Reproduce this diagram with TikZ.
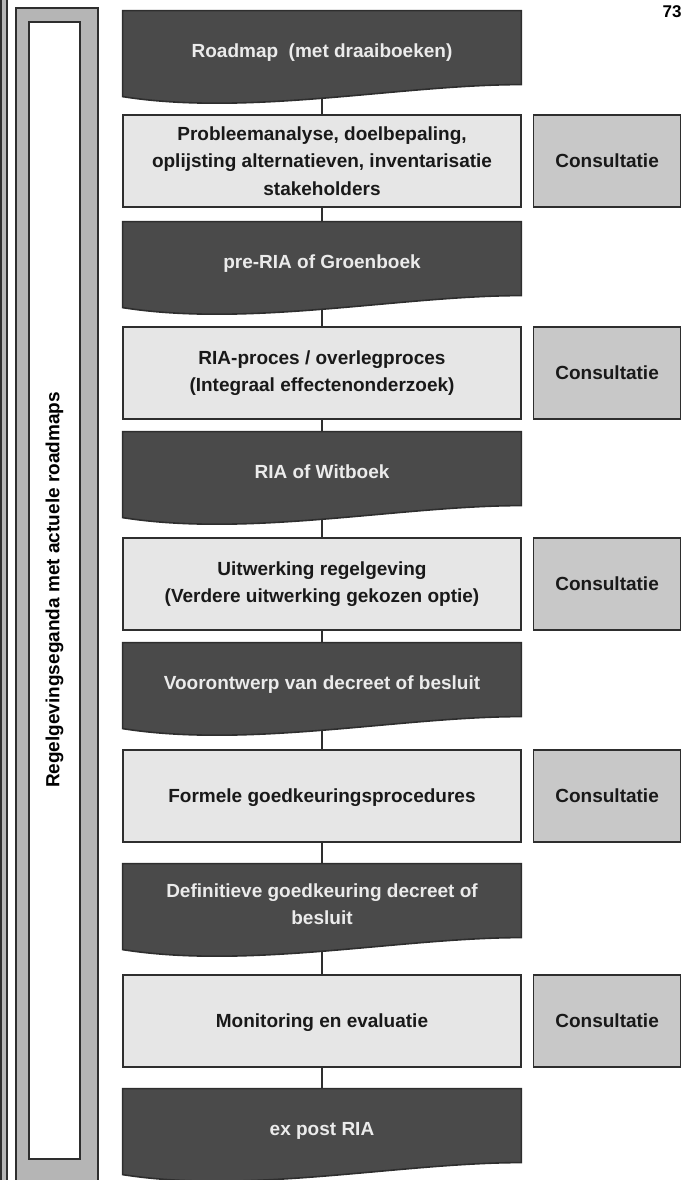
\documentclass[tikz,border=0pt]{standalone}
\usepackage{fontspec}
\setmainfont{Liberation Sans}
\usetikzlibrary{positioning,calc,backgrounds}

\definecolor{docgray}{HTML}{4A4A4A}
\definecolor{stepgray}{HTML}{E6E6E6}
\definecolor{consgray}{HTML}{C8C8C8}
\definecolor{bargray}{HTML}{B5B5B5}
\definecolor{edgegray}{HTML}{2E2E2E}

\tikzset{
    boxtext/.style={font=\bfseries\fontsize{9.5}{13.75}\selectfont, align=center, inner sep=0pt},
    oneline/.style={text height=7pt, text depth=0.5pt},
    stepbox/.style={boxtext, text=black!90, draw=edgegray, line width=0.8pt, fill=stepgray, minimum width=199pt, minimum height=46pt},
    consbox/.style={boxtext, oneline, text=black!90, draw=edgegray, line width=0.8pt, fill=consgray, minimum width=73.5pt, minimum height=46pt},
    docbox/.style={boxtext, text=white!92!black, minimum width=199pt, minimum height=40pt},
    docshape/.style={draw=edgegray, line width=0.8pt, fill=docgray},
    link/.style={draw=edgegray, line width=0.8pt},
}

\newcommand{\docpath}[1]{%
    \path[docshape] (#1.north west) -- (#1.north east) -- ($(#1.north east)+(0,74)$)
        .. controls ($(#1.north west)+(277,74)$) and ($(#1.north west)+(127,106)$) .. ($(#1.north west)+(0,86)$) -- cycle;}

\begin{document}
\begin{tikzpicture}[x=0.5pt, y=-0.5pt]
    \useasboundingbox (0,0) rectangle (686,1180);
    \clip (0,0) rectangle (686,1180);

    \draw[edgegray, fill=bargray, line width=0.8pt] (1,-10) rectangle (7,1200);
    \draw[edgegray, fill=bargray, line width=0.8pt] (16,8) rectangle (98,1200);
    \draw[edgegray, fill=white, line width=0.8pt] (29,22) rectangle (80,1159);
    \node[boxtext, rotate=90] (agenda) at (54.5,590) {Regelgevingseganda met actuele roadmaps};
    \node[font=\bfseries\fontsize{8.5}{10}\selectfont] (pagenr) at (672,12) {73};

    \node[docbox, oneline] (roadmap) at (322,51) {Roadmap\ \ (met draaiboeken)};
    \node[stepbox] (analyse) at (322,161) {Probleemanalyse, doelbepaling,\\oplijsting alternatieven, inventarisatie\\stakeholders};
    \node[consbox, right=5.5pt of analyse] (cons1) {Consultatie};
    \node[docbox, oneline] (preria) at (322,262) {pre-RIA of Groenboek};
    \node[stepbox] (riaproces) at (322,373) {RIA-proces / overlegproces\\(Integraal effectenonderzoek)};
    \node[consbox, right=5.5pt of riaproces] (cons2) {Consultatie};
    \node[docbox, oneline] (witboek) at (322,472) {RIA of Witboek};
    \node[stepbox] (uitwerking) at (322,584) {Uitwerking regelgeving\\(Verdere uitwerking gekozen optie)};
    \node[consbox, right=5.5pt of uitwerking] (cons3) {Consultatie};
    \node[docbox, oneline] (voorontwerp) at (322,683) {Voorontwerp van decreet of besluit};
    \node[stepbox, oneline] (formeel) at (322,796) {Formele goedkeuringsprocedures};
    \node[consbox, right=5.5pt of formeel] (cons4) {Consultatie};
    \node[docbox] (definitief) at (322,904) {Definitieve goedkeuring decreet of\\besluit};
    \node[stepbox, oneline] (monitoring) at (322,1021) {Monitoring en evaluatie};
    \node[consbox, right=5.5pt of monitoring] (cons5) {Consultatie};
    \node[docbox, oneline] (expost) at (322,1129) {ex post RIA};

    \begin{scope}[on background layer]
        \clip (0,0) rectangle (686,1180);
        \draw[link] (roadmap.south) -- (analyse.north);
        \draw[link] (analyse.south) -- (preria.north);
        \draw[link] (preria.south) -- (riaproces.north);
        \draw[link] (riaproces.south) -- (witboek.north);
        \draw[link] (witboek.south) -- (uitwerking.north);
        \draw[link] (uitwerking.south) -- (voorontwerp.north);
        \draw[link] (voorontwerp.south) -- (formeel.north);
        \draw[link] (formeel.south) -- (definitief.north);
        \draw[link] (definitief.south) -- (monitoring.north);
        \draw[link] (monitoring.south) -- (expost.north);
        \docpath{roadmap}
        \docpath{preria}
        \docpath{witboek}
        \docpath{voorontwerp}
        \docpath{definitief}
        \docpath{expost}
    \end{scope}
\end{tikzpicture}
\end{document}
